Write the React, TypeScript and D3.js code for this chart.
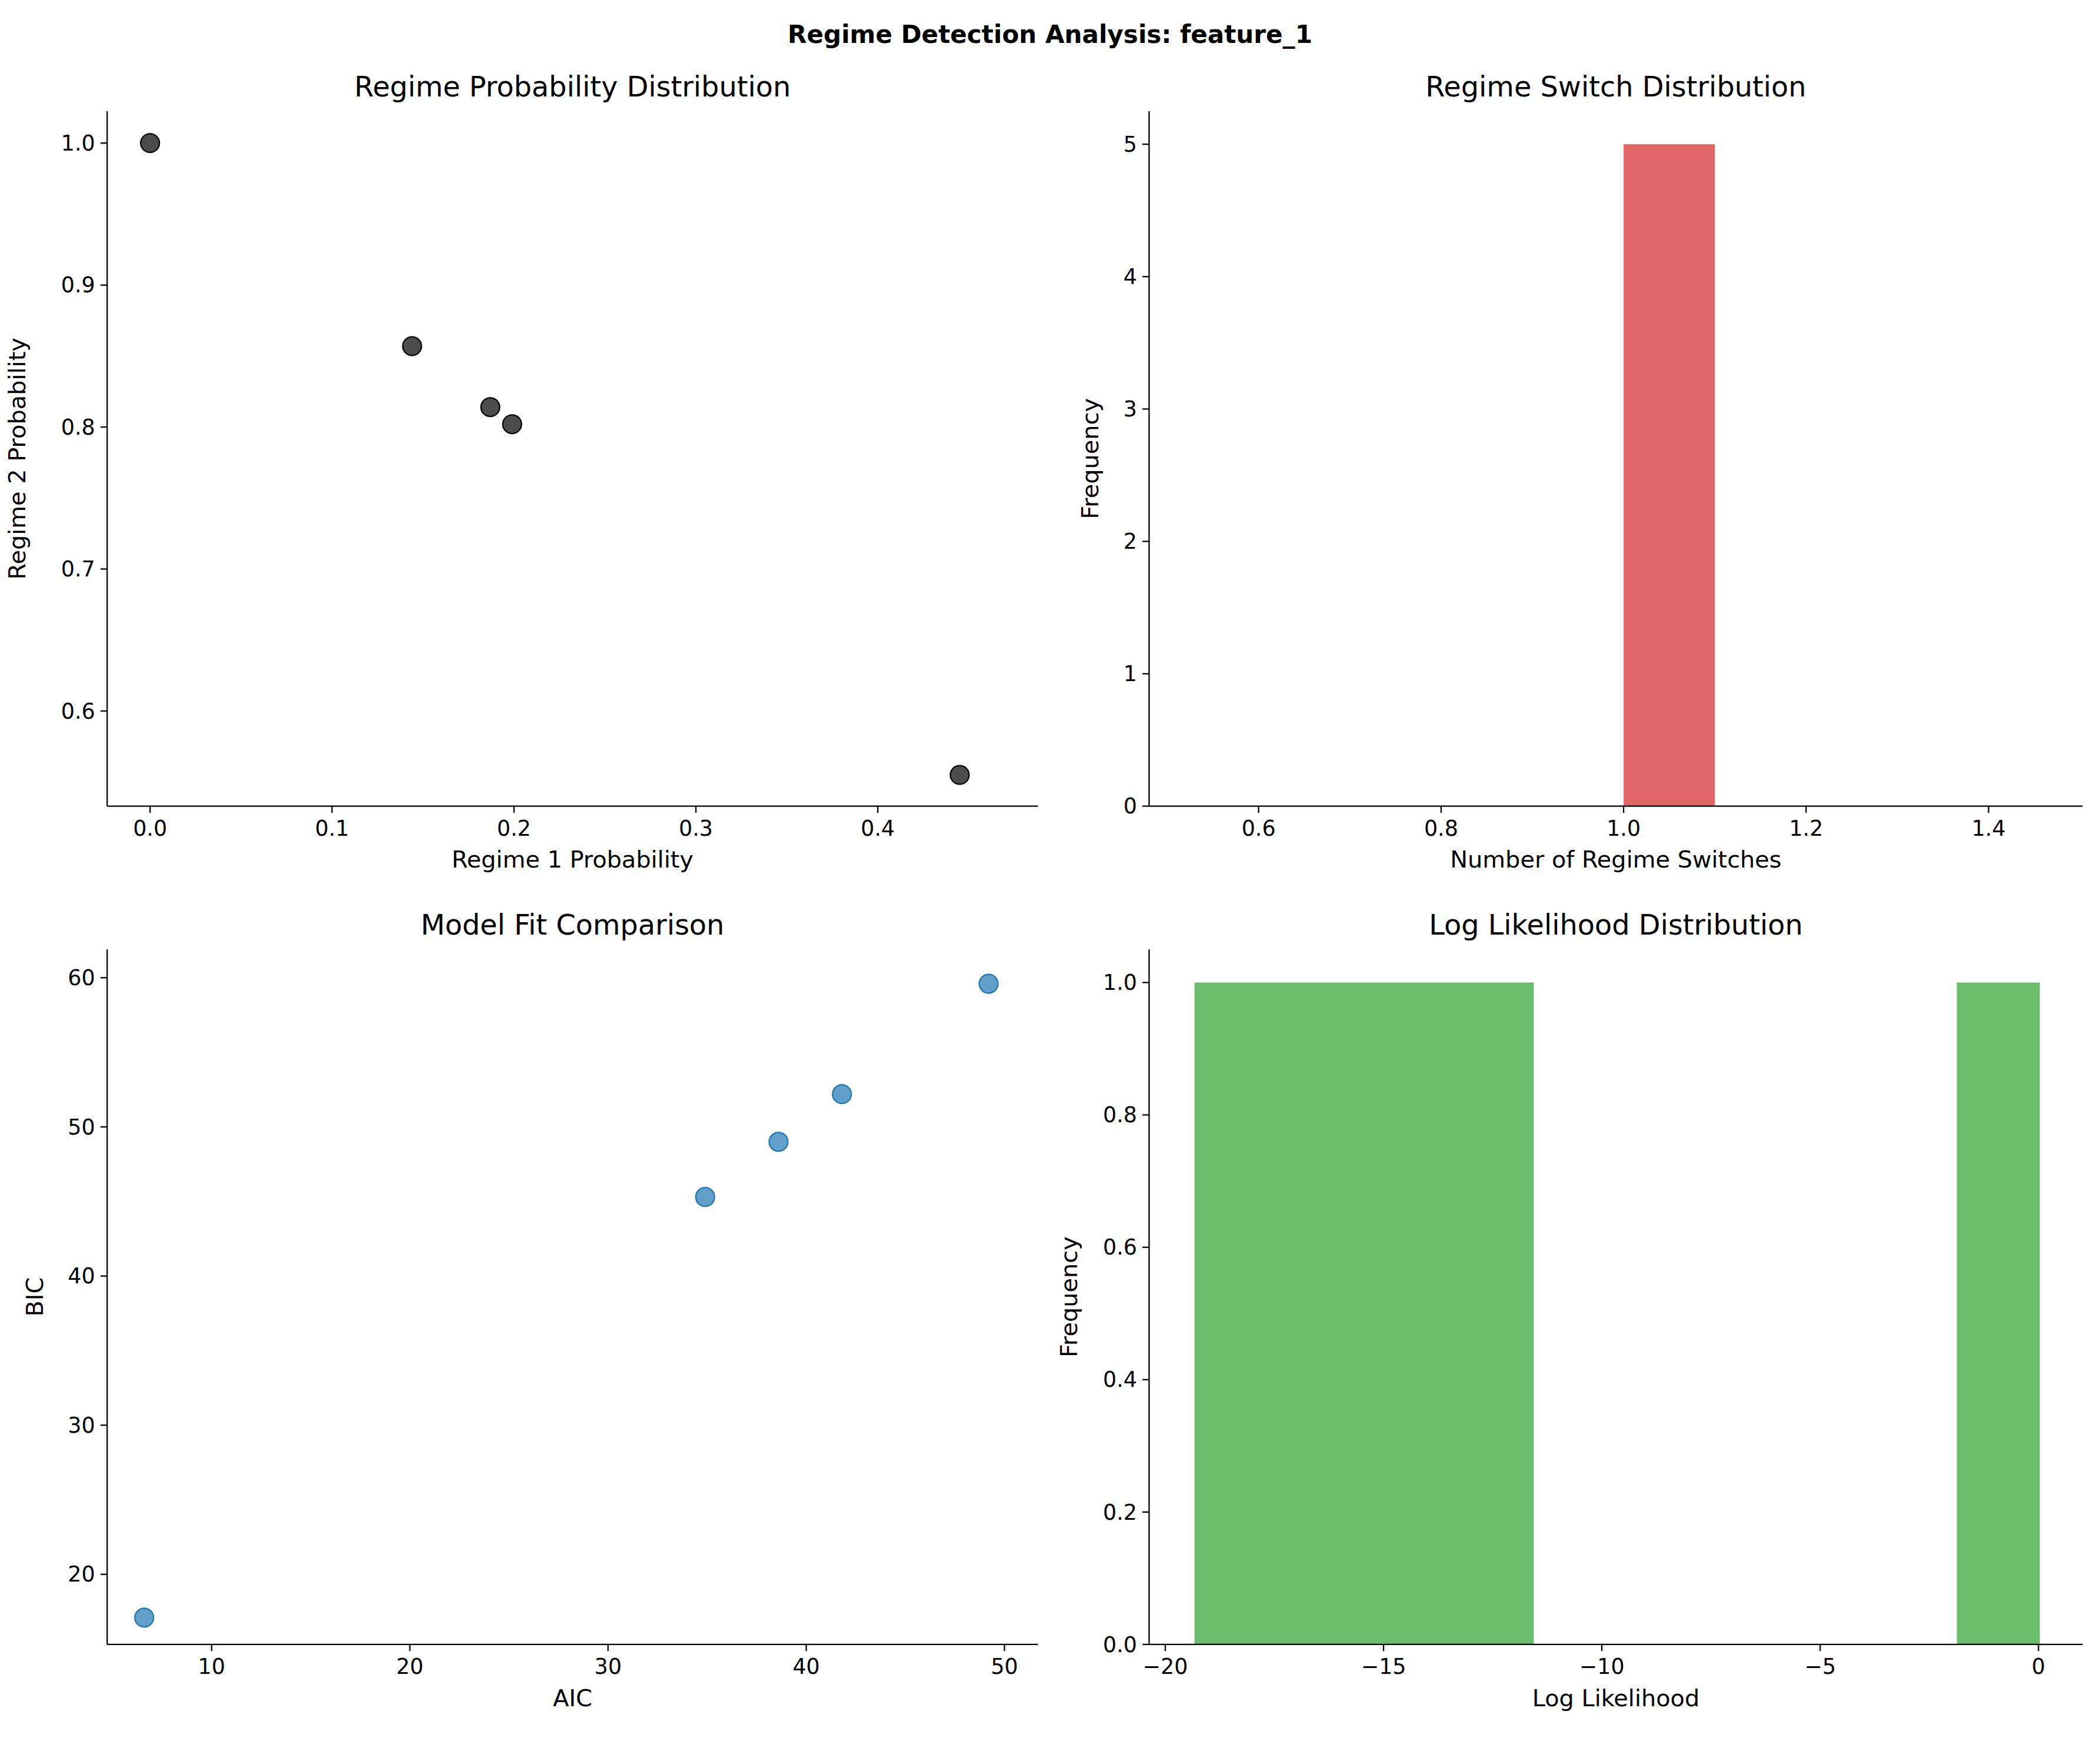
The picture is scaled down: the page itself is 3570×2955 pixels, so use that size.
import React from 'react';
import * as d3 from 'd3';

const regime1Prob = [0, 0.144, 0.187, 0.199, 0.445];
const regime2Prob = [1.0, 0.857, 0.814, 0.802, 0.555];
const switchBins = [{ x0: 1.0, x1: 1.1, count: 5 }];
const aic = [6.6, 34.9, 38.6, 41.8, 49.2];
const bic = [17.1, 45.3, 49.0, 52.2, 59.6];
const llBins = [
  { x0: -19.33, x1: -11.56, count: 1 },
  { x0: -1.87, x1: 0.03, count: 1 },
];

const S = 3570 / 1568;
const font = 'DejaVu Sans, sans-serif';

interface PanelProps {
  x: number; y: number; w: number; h: number;
  xd: [number, number]; yd: [number, number];
  xt: number[]; yt: number[]; fmtX: (v: number) => string; fmtY: (v: number) => string;
  title: string; xl: string; yl: string; ylx: number;
  children: (x: d3.ScaleLinear<number, number>, y: d3.ScaleLinear<number, number>) => React.ReactNode;
}

const Panel: React.FC<PanelProps> = (p) => {
  const x = d3.scaleLinear().domain(p.xd).range([0, p.w]);
  const y = d3.scaleLinear().domain(p.yd).range([p.h, 0]);
  return (
    <g transform={`translate(${p.x},${p.y})`} fontFamily={font}>
      {p.children(x, y)}
      <line x1={0} x2={p.w} y1={p.h} y2={p.h} stroke="#000" strokeWidth={1} />
      <line x1={0} x2={0} y1={0} y2={p.h} stroke="#000" strokeWidth={1} />
      {p.xt.map((t) => (
        <g key={t} transform={`translate(${x(t)},${p.h})`}>
          <line y2={5} stroke="#000" />
          <text y={22} textAnchor="middle" fontSize={16}>{p.fmtX(t)}</text>
        </g>
      ))}
      {p.yt.map((t) => (
        <g key={t} transform={`translate(0,${y(t)})`}>
          <line x2={-5} stroke="#000" />
          <text x={-9} dy="0.35em" textAnchor="end" fontSize={16}>{p.fmtY(t)}</text>
        </g>
      ))}
      <text x={p.w / 2} y={-11} textAnchor="middle" fontSize={21}>{p.title}</text>
      <text x={p.w / 2} y={p.h + 46} textAnchor="middle" fontSize={17.5}>{p.xl}</text>
      <text transform={`translate(${p.ylx},${p.h / 2}) rotate(-90)`} textAnchor="middle" fontSize={17.5}>{p.yl}</text>
    </g>
  );
};

const f1 = d3.format('.1f');
const f0 = d3.format('d');

const App: React.FC = () => (
  <svg width={3570} height={2955} style={{ display: 'block', margin: -8 }}>
    <rect width={3570} height={2955} fill="#fff" />
    <g transform={`scale(${S})`}>
      <text x={784} y={32} textAnchor="middle" fontFamily={font} fontWeight="bold" fontSize={18.5}>
        Regime Detection Analysis: feature_1
      </text>
      <Panel x={80} y={83} w={695} h={519} xd={[-0.0236, 0.488]} yd={[0.533, 1.0225]}
        xt={[0, 0.1, 0.2, 0.3, 0.4]} yt={[0.6, 0.7, 0.8, 0.9, 1.0]} fmtX={f1} fmtY={f1} ylx={-61}
        title="Regime Probability Distribution" xl="Regime 1 Probability" yl="Regime 2 Probability">
        {(x, y) => regime1Prob.map((v, i) => (
          <circle key={i} cx={x(v)} cy={y(regime2Prob[i])} r={7} fill="#000" fillOpacity={0.7} stroke="#000" strokeWidth={1} />
        ))}
      </Panel>
      <Panel x={858} y={83} w={697} h={519} xd={[0.48, 1.503]} yd={[0, 5.25]}
        xt={[0.6, 0.8, 1.0, 1.2, 1.4]} yt={[0, 1, 2, 3, 4, 5]} fmtX={f1} fmtY={f0} ylx={-38}
        title="Regime Switch Distribution" xl="Number of Regime Switches" yl="Frequency">
        {(x, y) => switchBins.map((b, i) => (
          <rect key={i} x={x(b.x0)} width={x(b.x1) - x(b.x0)} y={y(b.count)} height={y(0) - y(b.count)} fill="#d62728" fillOpacity={0.7} />
        ))}
      </Panel>
      <Panel x={80} y={709} w={695} h={519} xd={[4.73, 51.69]} yd={[15.3, 61.9]}
        xt={[10, 20, 30, 40, 50]} yt={[20, 30, 40, 50, 60]} fmtX={f0} fmtY={f0} ylx={-48}
        title="Model Fit Comparison" xl="AIC" yl="BIC">
        {(x, y) => aic.map((v, i) => (
          <circle key={i} cx={x(v)} cy={y(bic[i])} r={7} fill="#1f77b4" fillOpacity={0.7} stroke="#1f77b4" strokeWidth={1} />
        ))}
      </Panel>
      <Panel x={858} y={709} w={697} h={519} xd={[-20.37, 1.01]} yd={[0, 1.05]}
        xt={[-20, -15, -10, -5, 0]} yt={[0, 0.2, 0.4, 0.6, 0.8, 1.0]} fmtX={(v) => f0(v).replace('-', '−')} fmtY={f1} ylx={-54}
        title="Log Likelihood Distribution" xl="Log Likelihood" yl="Frequency">
        {(x, y) => llBins.map((b, i) => (
          <rect key={i} x={x(b.x0)} width={x(b.x1) - x(b.x0)} y={y(b.count)} height={y(0) - y(b.count)} fill="#2ca02c" fillOpacity={0.7} />
        ))}
      </Panel>
    </g>
  </svg>
);

export default App;
